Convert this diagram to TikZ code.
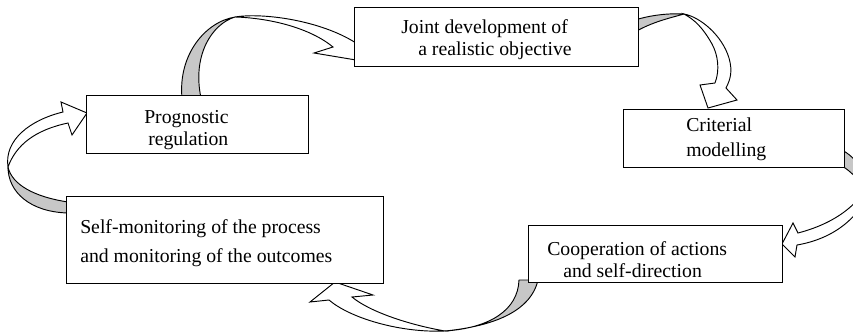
\documentclass[tikz,border=0pt]{standalone}
\usepackage{fontspec}
\setmainfont{Liberation Serif}
\tikzset{
  back/.style={fill=black!22, draw=black, line width=0.7pt, line join=round},
  front/.style={fill=white, draw=black, line width=0.7pt, line join=miter},
  box/.style={draw=black, fill=white, line width=0.7pt, inner sep=0pt},
  txt/.style={align=left, inner sep=0pt, anchor=base west,
    font=\fontsize{14.8}{16.5}\selectfont},
}
\begin{document}
\begin{tikzpicture}[x=0.75pt,y=-0.75pt]
\useasboundingbox (0,0) rectangle (853,333);
\fill[white] (0,0) rectangle (853,333);
\clip (0,0) rectangle (853,333);

% Arrow A: Prognostic -> Joint
\path[back] (182,98) .. controls (178,55) and (205,22) .. (235,17)
  .. controls (212,24) and (192,55) .. (201,98) -- cycle;
\path[front] (235,17) .. controls (262,12.5) and (320,20) .. (356,43)
  -- (372,36) -- (368,62) -- (314,53) -- (333,47)
  .. controls (310,28) and (270,18) .. (235,17) -- cycle;

% Arrow B: Joint -> Criterial
\path[back] (635,20) .. controls (648,16) and (665,13) .. (684,14)
  .. controls (670,18) and (652,22) .. (635,32) -- cycle;
\path[front] (684,14) .. controls (700,17) and (722,35) .. (729,58)
  .. controls (733,72) and (730,80) .. (726,88)
  -- (737,100) -- (708,108) -- (700,85) -- (715,83)
  .. controls (720,70) and (718,55) .. (712,44)
  .. controls (703,28) and (695,20) .. (684,14) -- cycle;

% Arrow C: Criterial -> Cooperation
\path[back] (842,150) .. controls (853,156) and (860,165) .. (866,176)
  -- (868,190) .. controls (858,180) and (852,172) .. (842,166) -- cycle;
\path[front] (875,172) .. controls (864,200) and (840,222) .. (798,233)
  -- (793,223) -- (782,244) -- (795,257) -- (797,245)
  .. controls (838,238) and (868,212) .. (875,172) -- cycle;

% Arrow D: Cooperation -> Self-monitoring
\path[back] (519,280) .. controls (518,310) and (490,328) .. (445,331)
  .. controls (485,327) and (530,315) .. (538,280) -- cycle;
\path[front] (445,331) .. controls (400,333) and (350,318) .. (329,300)
  -- (310,302) -- (335,282) -- (373,295) -- (352,297)
  .. controls (370,312) and (410,325) .. (445,331) -- cycle;

% Arrow E: Self-monitoring -> Prognostic
\path[back] (68,202) .. controls (35,197) and (12,185) .. (8,167)
  .. controls (8,192) and (30,212) .. (68,213) -- cycle;
\path[front] (8,167) .. controls (4,140) and (30,120) .. (63,112)
  -- (61,102) -- (87,113) -- (72,135) -- (68,123)
  .. controls (35,130) and (16,145) .. (8,167) -- cycle;

% Boxes
\node[box, minimum width=213pt, minimum height=44.25pt] (J) at (496,36.5) {};
\node[box, minimum width=165.75pt, minimum height=43.5pt] (C) at (733.5,138) {};
\node[box, minimum width=190.5pt, minimum height=42.75pt] (K) at (655,253.5) {};
\node[box, minimum width=237.75pt, minimum height=65.25pt] (S) at (224.5,239.5) {};
\node[box, minimum width=166.5pt, minimum height=43.5pt] (P) at (197,124) {};

% Texts (anchor = baseline of the last line)
\node[txt] (Jt) at (401,55) {Joint development of\\\hspace*{12.75pt}a realistic objective};
\node[txt] (Ct) at (686,156) {Criterial\\[2.25pt]modelling};
\node[txt] (Kt) at (547,277) {Cooperation of actions\\\hspace*{12pt}and self-direction};
\node[txt] (St) at (80,262) {Self-monitoring of the process\\[5.25pt]and monitoring of the outcomes};
\node[txt] (Pt) at (144,145) {Prognostic\\\hspace*{3pt}regulation};
\end{tikzpicture}
\end{document}
